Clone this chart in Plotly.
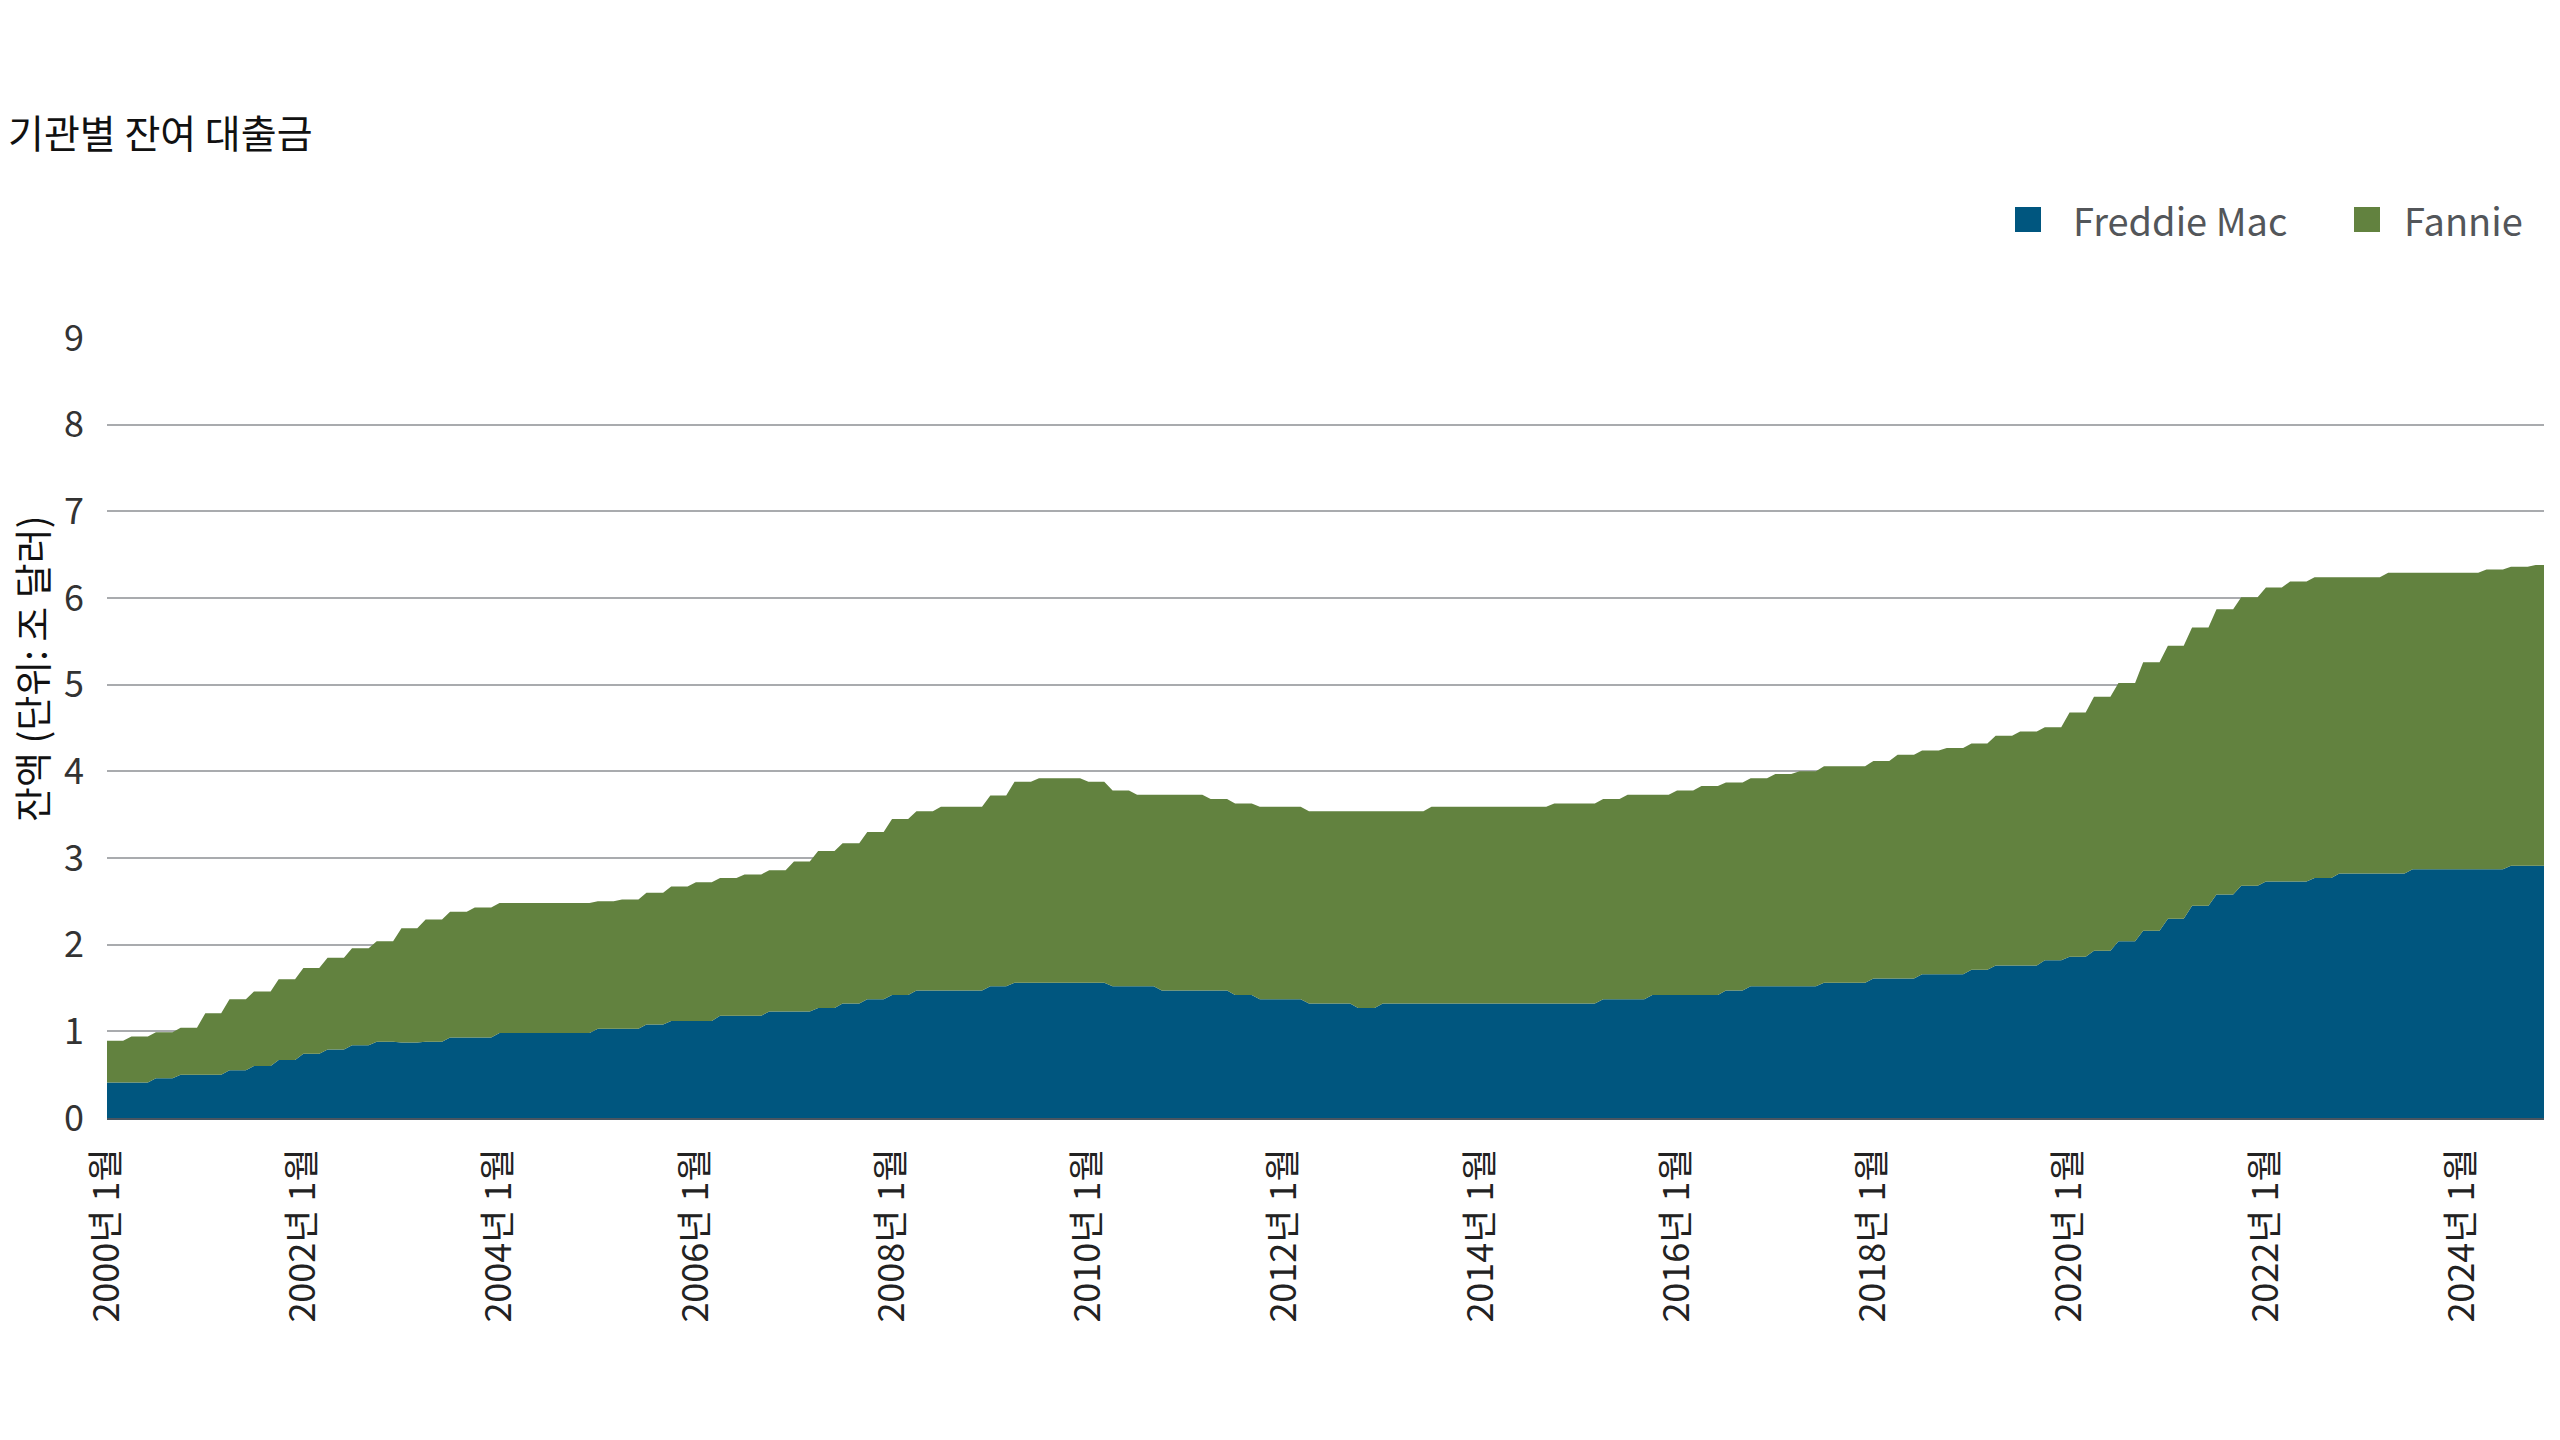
import numpy as np
import pandas as pd
import plotly.graph_objects as go

# quarterly outstanding balances, trillions USD (2000Q1 .. 2024Q4)
freddie = [
    0.41, 0.41, 0.46, 0.50,  0.50, 0.55, 0.60, 0.67,  0.74, 0.79, 0.84, 0.88,
    0.87, 0.88, 0.93, 0.93,  0.98, 0.98, 0.98, 0.98,  1.03, 1.03, 1.08, 1.12,
    1.12, 1.18, 1.18, 1.23,  1.23, 1.27, 1.32, 1.37,  1.42, 1.47, 1.47, 1.47,
    1.52, 1.56, 1.56, 1.56,  1.56, 1.52, 1.52, 1.47,  1.47, 1.47, 1.42, 1.37,
    1.37, 1.32, 1.32, 1.27,  1.32, 1.32, 1.32, 1.32,  1.32, 1.32, 1.32, 1.32,
    1.32, 1.37, 1.37, 1.42,  1.42, 1.42, 1.47, 1.52,  1.52, 1.52, 1.56, 1.56,
    1.61, 1.61, 1.66, 1.66,  1.71, 1.76, 1.76, 1.82,  1.86, 1.93, 2.04, 2.16,
    2.30, 2.45, 2.58, 2.68,  2.73, 2.73, 2.77, 2.82,  2.82, 2.82, 2.87, 2.87,
    2.87, 2.87, 2.91, 2.91,
]
fannie = [
    0.48, 0.53, 0.53, 0.54,  0.71, 0.82, 0.86, 0.93,  0.99, 1.06, 1.12, 1.16,
    1.32, 1.41, 1.45, 1.50,  1.50, 1.50, 1.50, 1.50,  1.47, 1.49, 1.52, 1.55,
    1.60, 1.59, 1.63, 1.63,  1.73, 1.81, 1.85, 1.93,  2.03, 2.07, 2.12, 2.12,
    2.20, 2.32, 2.36, 2.36,  2.32, 2.26, 2.21, 2.26,  2.26, 2.21, 2.21, 2.22,
    2.22, 2.22, 2.22, 2.27,  2.22, 2.22, 2.27, 2.27,  2.27, 2.27, 2.27, 2.31,
    2.31, 2.31, 2.36, 2.31,  2.36, 2.41, 2.40, 2.40,  2.45, 2.48, 2.50, 2.50,
    2.51, 2.58, 2.58, 2.61,  2.61, 2.65, 2.70, 2.69,  2.82, 2.93, 2.98, 3.10,
    3.15, 3.21, 3.29, 3.33,  3.39, 3.46, 3.47, 3.42,  3.42, 3.47, 3.42, 3.42,
    3.42, 3.46, 3.45, 3.47,
]
tick_years = list(range(2000, 2025, 2))
tick_labels = [f"{y}년 1월" for y in tick_years]

# monthly axis, each quarterly figure held for its three months
months = pd.date_range("2000-01-01", "2024-11-01", freq="MS")
freddie_m = np.repeat(freddie, 3)[:len(months)]
fannie_m = np.repeat(fannie, 3)[:len(months)]

BLUE = "#00567f"
GREEN = "#62823f"
FONT = "Noto Sans CJK KR"

# page body has an 8px margin, so the figure is 8px smaller than the window
W, H = 2552, 1432
L, R, T, B = 99, 16, 330, 322


def px_x(px):
    return (px - L) / (W - L - R)


def px_y(py):
    return (H - B - py) / (H - T - B)


fig = go.Figure()
fig.add_trace(go.Scatter(x=months, y=freddie_m, name="Freddie Mac", stackgroup="one",
                         mode="none", fillcolor=BLUE, showlegend=False))
fig.add_trace(go.Scatter(x=months, y=fannie_m, name="Fannie", stackgroup="one",
                         mode="none", fillcolor=GREEN, showlegend=False))

fig.update_layout(
    width=W, height=H,
    margin=dict(l=L, r=R, t=T, b=B),
    paper_bgcolor="white", plot_bgcolor="white",
    font=dict(family=FONT, size=36, color="#222222"),
    title=dict(text="기관별 잔여 대출금", x=0, xanchor="left",
               y=1 - 126 / H, yanchor="middle",
               font=dict(family=FONT, size=39, color="#111111")),
    showlegend=False,
)
fig.update_xaxes(
    range=[months[0], months[-1]],
    tickvals=[pd.Timestamp(f"{y}-01-01") for y in tick_years],
    ticktext=tick_labels, tickangle=-90, ticks="", ticklabelstandoff=14,
    showgrid=False, showline=True, linecolor="#4a5560", linewidth=2,
    tickfont=dict(size=36, color="#222222"),
)
fig.update_yaxes(
    range=[0, 9], dtick=1, showgrid=True, gridcolor="#a9abae", gridwidth=1.5,
    zeroline=False, ticks="", ticklabelstandoff=22,
    tickfont=dict(size=36, color="#333333"),
)

# y axis title
fig.add_annotation(text="잔액 (단위: 조 달러)", xref="paper", yref="paper",
                   x=px_x(22), y=px_y(661), textangle=-90, showarrow=False,
                   xanchor="center", yanchor="middle",
                   font=dict(family=FONT, size=38, color="#111111"))

# legend
for name, color, sx, tx in [("Freddie Mac", BLUE, 2007, 2063), ("Fannie", GREEN, 2346, 2394)]:
    fig.add_shape(type="rect", xref="paper", yref="paper",
                  x0=px_x(sx), x1=px_x(sx + 26), y0=px_y(224), y1=px_y(199),
                  fillcolor=color, line=dict(width=0))
    fig.add_annotation(text=name, xref="paper", yref="paper", x=px_x(tx), y=px_y(211),
                       xanchor="left", yanchor="middle", showarrow=False,
                       font=dict(family=FONT, size=38, color="#53565a"))

fig.write_html("out.html")
